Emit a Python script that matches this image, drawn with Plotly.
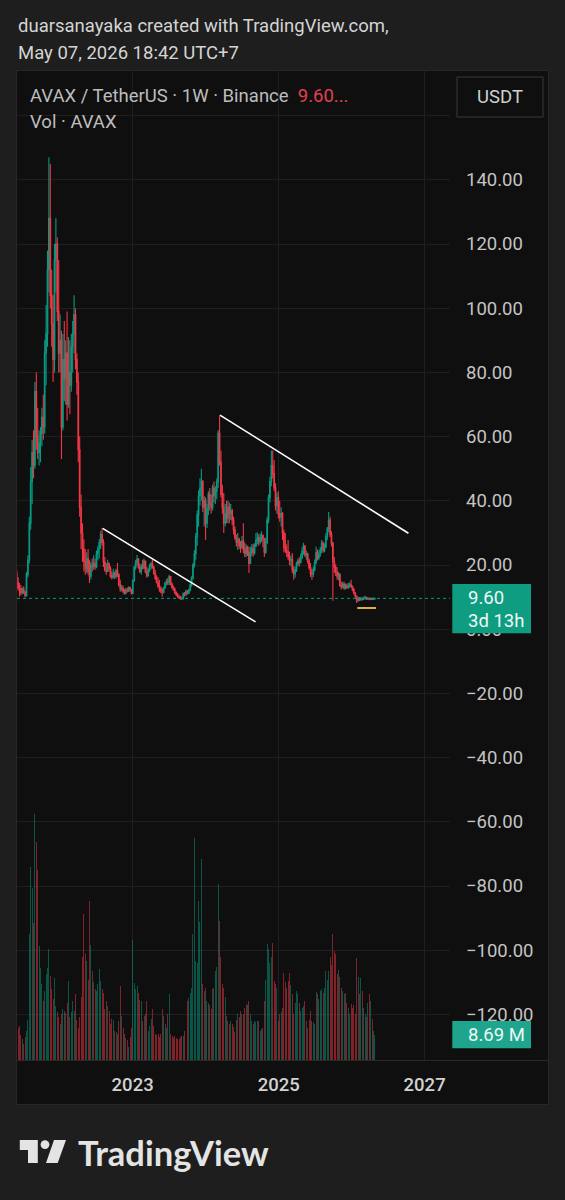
import pandas as pd
import plotly.graph_objects as go

# ---------------- data (weekly AVAX/USDT, Binance) ----------------
first_open = 17.6
closes = [
    14.6, 12.8, 12.6, 11.4, 12.5, 11.6, 10.4, 17.0, 21.5, 33.0, 46.0, 55.0, 51.0, 74.0, 60.0, 55.0,
    58.0, 61.0, 66.0, 63.0, 86.0, 92.0, 112.0, 128.0, 104.0, 95.0, 84.0, 115.0, 120.0, 99.0, 86.0,
    90.0, 63.0, 84.0, 78.0, 86.0, 70.0, 80.0, 76.0, 88.0, 92.0, 98.0, 84.0, 77.0, 56.0, 38.0, 30.0,
    25.0, 21.0, 19.0, 22.0, 18.0, 16.5, 20.0, 19.5, 20.5, 19.5, 23.5, 25.0, 27.0, 29.5, 27.0,
    21.0, 18.5, 18.0, 20.4, 19.0, 16.6, 16.2, 17.4, 16.4, 18.2, 17.0, 13.8, 12.6, 12.8, 11.8, 11.2,
    12.2, 12.0, 13.0, 12.4, 11.2,
    15.2, 19.2, 20.6, 21.8, 19.3, 17.9, 19.6, 19.0, 21.2, 17.8, 16.6, 18.6, 19.6, 20.4, 19.2, 17.4,
    15.8, 14.6, 13.4, 12.6, 12.0, 11.4, 12.8, 14.2, 14.8, 14.6, 16.4, 14.0, 13.0, 12.4, 11.4, 10.6,
    10.2, 9.8, 9.6, 9.4,
    11.0, 10.8, 11.8, 11.2, 12.2, 13.8, 16.0, 20.0, 23.6, 28.8, 35.6, 41.5, 44.0, 46.0, 38.0, 40.0,
    33.0, 37.5, 42.0, 39.0, 38.0, 44.0, 41.5, 43.0, 46.0, 61.0, 52.0, 42.0, 38.0, 33.0,
    36.0, 34.5, 38.0, 36.0, 37.0, 34.0, 31.0, 28.5, 27.0, 28.0, 26.0, 25.5, 27.5, 25.0, 23.5, 25.5,
    24.0, 20.5, 23.8, 25.2, 23.8, 25.8, 27.8, 28.5, 27.2, 28.6, 29.2, 28.0, 24.0, 27.0, 34.0, 41.0,
    46.0, 51.0, 48.5, 44.0, 38.5, 41.0, 36.0, 35.0, 36.0, 30.0, 25.5, 24.5, 24.0, 22.5, 21.5, 21.8,
    18.5, 17.2, 18.5, 20.5, 21.2, 20.8, 22.4, 24.2, 25.8, 23.2, 23.4, 21.2, 19.2, 17.5, 17.2, 18.6,
    20.8, 23.8, 22.2, 23.4, 24.8, 26.8, 24.6, 25.6, 28.8, 31.2, 34.0, 29.5, 26.8, 21.0, 19.2, 17.8,
    16.5, 17.0, 13.6, 13.2, 14.0, 12.8, 13.6, 13.0, 13.4, 13.8, 13.2, 12.3, 11.2, 10.2, 9.0, 9.6,
    9.2, 9.5, 9.3, 9.7, 9.9, 9.4, 9.6, 9.3, 9.5, 9.3, 9.45, 9.60,
]
highs = [
    18.6, 16.2, 14.4, 13.8, 13.0, 13.4, 12.0, 17.8, 23.0, 35.0, 50.5, 59.0, 62.0, 77.0, 80.0, 69.0,
    62.0, 63.0, 69.0, 73.0, 90.0, 101.0, 118.0, 147.0, 145.0, 112.0, 104.0, 120.0, 128.0, 122.0, 115.0,
    98.0, 93.0, 92.0, 96.0, 90.0, 99.0, 91.0, 90.0, 92.0, 96.0, 104.0, 100.0, 86.0, 80.0, 60.0, 42.0,
    33.0, 28.0, 25.0, 24.0, 25.0, 21.6, 21.0, 22.0, 23.0, 22.0, 24.5, 26.0, 28.0, 30.6, 31.5,
    28.0, 22.5, 20.6, 21.6, 20.8, 19.6, 18.0, 18.8, 18.0, 18.8, 20.6, 17.4, 15.4, 13.8, 13.6, 12.6,
    12.8, 13.0, 13.4, 13.2, 12.6,
    15.5, 19.8, 21.6, 23.1, 22.2, 20.5, 20.3, 21.6, 22.0, 21.4, 19.4, 19.0, 20.4, 21.0, 21.6, 19.8,
    18.5, 16.8, 16.3, 15.4, 13.4, 12.8, 13.2, 14.8, 15.6, 16.0, 17.0, 16.6, 14.6, 13.6, 13.0, 11.8,
    11.3, 10.8, 10.4, 10.2,
    11.4, 11.6, 12.3, 12.2, 12.6, 14.2, 16.5, 20.6, 24.7, 30.0, 37.0, 43.3, 47.0, 50.0, 46.5, 41.5,
    41.0, 39.0, 43.0, 44.0, 42.0, 45.0, 46.0, 44.5, 47.0, 62.0, 66.6, 55.7, 45.0, 42.4,
    39.0, 40.0, 40.0, 39.5, 39.0, 37.5, 35.0, 32.0, 29.5, 30.0, 28.5, 27.5, 29.0, 33.0, 27.0, 26.5,
    26.0, 25.7, 25.7, 26.5, 26.6, 26.8, 30.0, 30.2, 29.6, 29.8, 30.5, 29.5, 28.5, 28.5, 35.0, 42.0,
    47.5, 55.7, 55.7, 52.6, 45.5, 42.5, 43.0, 40.0, 38.0, 36.5, 31.0, 30.0, 26.5, 27.8, 24.2, 23.0,
    23.7, 19.6, 19.5, 21.0, 22.0, 22.4, 23.5, 25.5, 26.9, 26.2, 24.5, 23.8, 22.0, 20.6, 18.8, 19.5,
    21.8, 25.7, 24.8, 24.6, 25.6, 27.8, 27.4, 26.8, 30.0, 31.8, 36.5, 35.0, 30.5, 27.2, 22.5, 20.2,
    19.4, 17.8, 17.5, 14.8, 14.8, 14.8, 14.2, 14.2, 14.4, 14.6, 15.4, 13.6, 12.9, 11.6, 10.6, 10.2,
    10.0, 10.1, 9.9, 10.2, 10.4, 10.1, 10.0, 9.9, 9.9, 9.8, 9.9, 9.8,
]
lows = [
    13.8, 12.0, 10.2, 10.6, 10.9, 11.0, 9.9, 10.2, 16.2, 20.5, 31.0, 39.0, 47.0, 50.0, 56.0, 53.0,
    51.0, 52.0, 57.0, 59.0, 61.0, 76.0, 88.0, 105.0, 100.0, 88.0, 77.0, 80.0, 105.0, 96.0, 80.0,
    80.0, 53.0, 62.0, 71.0, 70.0, 65.0, 69.0, 67.0, 74.0, 80.0, 86.0, 81.0, 73.0, 52.0, 35.0, 25.0,
    21.0, 18.0, 17.0, 17.5, 17.0, 14.4, 15.5, 18.0, 18.5, 18.5, 19.0, 21.5, 22.0, 25.0, 26.0,
    19.4, 17.9, 17.0, 17.8, 18.0, 16.0, 15.5, 15.8, 15.6, 15.8, 16.3, 13.3, 11.7, 11.8, 11.2, 10.7,
    10.9, 11.4, 11.6, 11.6, 10.8,
    10.9, 14.8, 18.5, 19.6, 18.8, 17.5, 17.0, 18.6, 18.8, 17.4, 16.0, 16.4, 17.8, 18.6, 18.8, 17.0,
    15.4, 14.2, 12.9, 11.7, 11.2, 10.1, 11.2, 12.6, 13.6, 13.8, 13.8, 13.6, 12.6, 12.0, 11.0, 10.4,
    9.8, 9.4, 9.2, 9.2,
    9.3, 10.2, 10.3, 10.8, 11.0, 11.8, 13.2, 15.4, 19.2, 21.6, 26.0, 32.0, 38.5, 40.0, 36.5, 32.0,
    27.8, 31.5, 35.5, 37.0, 36.0, 37.0, 39.5, 39.0, 40.5, 44.0, 51.0, 41.0, 36.0, 30.0,
    32.0, 33.0, 33.0, 33.0, 34.0, 32.5, 29.5, 27.8, 25.8, 24.7, 25.0, 23.8, 25.0, 23.7, 22.5, 22.5,
    22.8, 17.5, 20.4, 22.8, 22.6, 23.2, 25.7, 26.4, 26.0, 26.5, 27.2, 25.5, 22.5, 23.5, 26.5, 33.0,
    39.5, 44.5, 47.0, 43.0, 37.0, 36.0, 34.5, 33.5, 32.0, 27.8, 24.0, 23.7, 22.5, 21.6, 20.0, 19.5,
    17.5, 15.4, 16.0, 17.8, 19.6, 19.5, 20.5, 21.8, 23.2, 22.5, 21.6, 20.4, 18.5, 16.3, 15.4, 16.2,
    18.0, 20.2, 21.4, 21.6, 22.6, 23.7, 23.8, 24.0, 25.2, 27.8, 30.2, 28.7, 25.8, 8.9, 17.5, 16.6,
    15.4, 15.2, 13.2, 12.4, 12.8, 12.3, 12.4, 12.6, 12.5, 13.0, 12.9, 11.8, 10.8, 9.8, 8.2, 8.5,
    8.8, 8.9, 8.9, 9.1, 9.3, 9.1, 9.2, 9.0, 9.1, 9.0, 9.1, 9.3,
]
volumes_m = [
    12.0, 11.2, 12.0, 8.8, 7.2, 5.6, 8.0, 10.0, 14.0, 44.0, 67.0, 60.0, 47.6, 85.6, 76.0, 66.0,
    39.6, 32.0, 26.4, 20.4, 24.0, 30.0, 32.0, 38.8, 29.2, 24.8, 21.2, 28.4, 18.8, 16.8, 14.8,
    12.4, 16.0, 17.6, 17.2, 16.4, 20.0, 27.6, 14.8, 16.8, 20.4, 17.2, 22.8, 14.0, 11.2, 14.8, 22.0,
    36.0, 50.8, 36.8, 34.4, 28.0, 55.2, 40.0, 30.8, 27.2, 24.8, 24.0, 26.4, 31.6, 27.6, 24.8,
    23.2, 17.6, 20.4, 18.8, 17.2, 12.4, 14.4, 14.0, 10.0, 9.6, 9.2, 13.6, 25.6, 15.2, 11.2, 9.2,
    7.6, 6.8, 4.4, 8.0, 11.2,
    41.6, 26.8, 24.8, 25.6, 23.2, 20.8, 20.4, 13.6, 15.2, 16.0, 20.4, 10.0, 12.0, 14.4, 17.6, 12.0,
    9.2, 8.8, 9.2, 8.0, 9.2, 17.6, 15.2, 12.4, 11.2, 16.0, 22.8, 9.2, 8.4, 7.6, 8.4, 7.6,
    7.2, 7.2, 8.0, 8.4,
    8.4, 10.0, 15.2, 20.4, 21.6, 23.2, 25.2, 44.0, 77.2, 34.4, 33.6, 55.2, 48.0, 70.0, 26.4, 24.0,
    25.2, 20.4, 20.0, 19.2, 17.6, 24.8, 25.2, 30.8, 32.4, 61.2, 48.4, 36.0, 26.4, 25.2,
    22.0, 15.2, 13.6, 12.4, 13.6, 12.4, 11.6, 9.6, 14.0, 16.0, 14.8, 17.2, 16.0, 16.0, 18.0, 19.6,
    19.2, 20.4, 16.0, 13.6, 12.4, 13.6, 13.2, 13.6, 13.6, 10.0, 10.8, 11.2, 20.4, 28.0, 40.4, 38.8,
    33.6, 36.0, 40.8, 27.6, 26.4, 25.2, 13.6, 16.0, 16.8, 18.0, 30.4, 27.2, 25.2, 27.6, 30.4, 26.0,
    22.8, 16.0, 20.0, 24.0, 22.8, 20.0, 17.2, 18.0, 18.8, 20.4, 13.6, 11.2, 14.0, 17.2, 13.6, 13.2,
    12.4, 23.6, 22.8, 21.2, 24.0, 24.8, 23.2, 25.2, 30.8, 28.0, 30.8, 36.0, 33.2, 44.0, 38.0, 36.8,
    30.0, 31.2, 28.8, 25.2, 24.0, 22.8, 23.2, 20.0, 18.0, 16.0, 19.6, 18.0, 19.2, 16.0, 35.6, 28.8,
    22.8, 28.4, 24.0, 18.0, 16.0, 14.8, 20.0, 22.8, 20.4, 14.4, 10.0, 8.69,
]
first_week = "2021-05-31"
x_tick_dates = ["2023-01-01", "2025-01-01", "2027-01-01"]
x_tick_labels = ["2023", "2025", "2027"]
price_ticks = [-120, -100, -80, -60, -40, -20, 0, 20, 40, 60, 80, 100, 120, 140, 160]
last_price = 9.60
last_volume_label = "8.69 M"
# drawings on the chart (date, price)
trend1_x = ["2022-08-04", "2024-09-07"]
trend1_y = [31.4, 2.3]
trend2_x = ["2024-03-13", "2026-10-12"]
trend2_y = [66.7, 29.9]
low_mark_x = ["2026-01-29", "2026-05-03"]
low_mark_y = 6.6

# ---------------- derived ----------------
dates = pd.date_range(first_week, periods=len(closes), freq="7D")
opens = [first_open] + closes[:-1]
UP, DOWN = "#089981", "#f23645"
vol_colors = ["rgba(8,153,129,0.5)" if c >= o else "rgba(242,54,69,0.5)" for o, c in zip(opens, closes)]

W, H = 565, 1200
PL, PR, PT, PB = 17, 450, 71, 1060          # plot area in pixels
def px(x):
    return (x - PL) / (PR - PL)
def py(y):
    return (PB - y) / (PB - PT)
def ppath(points):
    return "M " + " L ".join(f"{px(a):.5f},{py(b):.5f}" for a, b in points) + " Z"

FONT = "Roboto, 'Noto Sans', sans-serif"
PAGE_BG = "#1e1e1e"
PANEL_BG = "#0f0f0f"
GRID = "#1f1f1f"

fig = go.Figure()
fig.add_trace(go.Bar(
    x=dates, y=volumes_m, yaxis="y2", marker=dict(color=vol_colors, line=dict(width=0)),
    width=5 * 86400000, hoverinfo="skip", showlegend=False,
))
fig.add_trace(go.Candlestick(
    x=dates, open=opens, high=highs, low=lows, close=closes,
    increasing=dict(line=dict(color=UP, width=1.1), fillcolor=UP),
    decreasing=dict(line=dict(color=DOWN, width=1.1), fillcolor=DOWN),
    whiskerwidth=0, hoverinfo="skip", showlegend=False,
))

price_range = [(629.2 - PB) / 3.21, (629.2 - PT) / 3.21]
vol_range = [0, (PB - PT) * 0.348]

def fmt(v):
    if v == 160:
        return ""
    s = f"{v:.2f}"
    return s.replace("-", "\u2212")

shapes = [
    # panel
    dict(type="rect", xref="paper", yref="paper", x0=px(16.5), x1=px(548.5), y0=py(1104.5), y1=py(70.5),
         fillcolor=PANEL_BG, line=dict(color="#272727", width=1), layer="below"),
    # time-axis separator
    dict(type="line", xref="paper", yref="paper", x0=px(17), x1=px(548), y0=py(1060.5), y1=py(1060.5),
         line=dict(color="#2a2a2a", width=1), layer="below"),
    # last price dotted line
    dict(type="line", xref="paper", yref="y", x0=0, x1=1, y0=last_price, y1=last_price,
         line=dict(color=UP, width=1, dash="dot")),
    # trend lines
    dict(type="line", xref="x", yref="y", x0=trend1_x[0], x1=trend1_x[1], y0=trend1_y[0], y1=trend1_y[1],
         line=dict(color="#ffffff", width=1.6)),
    dict(type="line", xref="x", yref="y", x0=trend2_x[0], x1=trend2_x[1], y0=trend2_y[0], y1=trend2_y[1],
         line=dict(color="#ffffff", width=1.6)),
    dict(type="line", xref="x", yref="y", x0=low_mark_x[0], x1=low_mark_x[1], y0=low_mark_y, y1=low_mark_y,
         line=dict(color="#d6b440", width=2)),
    # price label box
    dict(type="rect", xref="paper", yref="paper", x0=px(452.3), x1=px(531), y0=py(633.3), y1=py(584),
         fillcolor="#0e9d81", line=dict(width=0), layer="above"),
    # volume label box
    dict(type="rect", xref="paper", yref="paper", x0=px(452.3), x1=px(531), y0=py(1048.3), y1=py(1021),
         fillcolor="#1fa58e", line=dict(width=0), layer="above"),
    # USDT button
    dict(type="rect", xref="paper", yref="paper", x0=px(457), x1=px(543), y0=py(117), y1=py(77),
         fillcolor=PANEL_BG, line=dict(color="#3a3a3a", width=1), layer="above"),
    # TradingView logo
    dict(type="path", xref="paper", yref="paper",
         path=ppath([(19.8, 1140), (37.8, 1140), (37.8, 1163), (28, 1163), (28, 1150), (19.8, 1150)]),
         fillcolor="#e4e4e4", line=dict(width=0)),
    dict(type="circle", xref="paper", yref="paper", x0=px(40.6), x1=px(49.4), y0=py(1149), y1=py(1140.2),
         fillcolor="#e4e4e4", line=dict(width=0)),
    dict(type="path", xref="paper", yref="paper",
         path=ppath([(54, 1140), (66, 1140), (57.7, 1163), (46, 1163)]),
         fillcolor="#e4e4e4", line=dict(width=0)),
]

def ann(text, x, y, size=18.5, color="#d6d6d6", xanchor="left", family=FONT, weight=None):
    f = dict(family=family, size=size, color=color)
    if weight:
        f["weight"] = weight
    return dict(text=text, xref="paper", yref="paper", x=px(x), y=py(y), xanchor=xanchor,
                yanchor="middle", showarrow=False, font=f)

annotations = [
    ann("duarsanayaka created with TradingView.com,", 16, 26, color="#d4d4d4"),
    ann("May 07, 2026 18:42 UTC+7", 16, 53, color="#d4d4d4"),
    ann("AVAX / TetherUS \u00b7 1W \u00b7 Binance  <span style='color:#e0414f'>9.60...</span>", 28, 96, color="#bdbdbd"),
    ann("Vol \u00b7 AVAX", 28, 122, color="#bdbdbd"),
    ann("USDT", 499.5, 97, color="#d0d0d0", xanchor="center"),
    ann(f"{last_price:.2f}", 465.5, 598, color="#eef8f5"),
    ann("3d 13h", 465.5, 620.5, color="#eef8f5"),
    ann(last_volume_label, 465.5, 1035, color="#eef8f5"),
    ann("TradingView", 76, 1152, size=34.5, color="#e4e4e4", family="Lato, 'Open Sans', sans-serif", weight="bold"),
]

fig.update_layout(
    width=W, height=H,
    margin=dict(l=PL, r=W - PR, t=PT, b=H - PB, pad=0),
    paper_bgcolor=PAGE_BG, plot_bgcolor="rgba(0,0,0,0)",
    showlegend=False, hovermode=False, dragmode=False,
    font=dict(family=FONT, color="#c4c4c4"),
    xaxis=dict(
        type="date", range=["2021-06-01 09:36", "2027-05-08"],
        tickmode="array", tickvals=x_tick_dates, ticktext=x_tick_labels,
        showgrid=True, gridcolor=GRID, gridwidth=1, zeroline=False, showline=False,
        ticks="", ticklabelstandoff=11,
        tickfont=dict(family=FONT, size=18.5, color="#d2d2d2", weight=500),
        rangeslider=dict(visible=False), fixedrange=True,
    ),
    yaxis=dict(
        range=price_range, side="right", tickmode="array", tickvals=price_ticks,
        ticktext=[fmt(v) for v in price_ticks],
        showgrid=True, gridcolor=GRID, gridwidth=1, zeroline=False, showline=False,
        ticks="", ticklabelstandoff=15,
        tickfont=dict(family=FONT, size=18.5, color="#c4c4c4"), fixedrange=True,
    ),
    yaxis2=dict(range=vol_range, overlaying="y", visible=False, fixedrange=True),
    shapes=shapes, annotations=annotations, bargap=0,
)

fig.write_html(
    "out.html",
    config={"displayModeBar": False, "staticPlot": True},
    post_script="document.body.style.margin='0';document.body.style.background='#1e1e1e';",
)
